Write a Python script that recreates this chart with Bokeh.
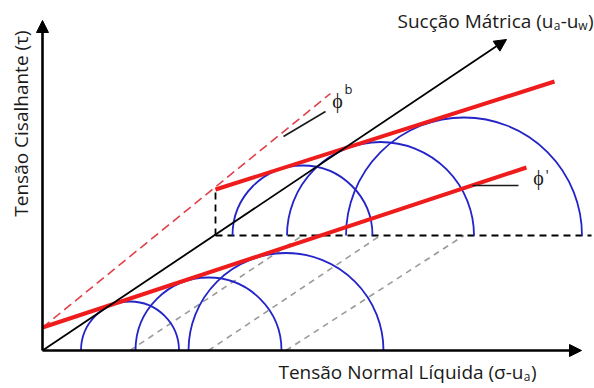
import numpy as np
from bokeh.plotting import figure
from bokeh.models import Range1d, Arrow, NormalHead
from bokeh.core.properties import value
from bokeh.embed import file_html
from bokeh.resources import INLINE

# ---- diagram values (normal stress sigma, shear tau), origin at the axes' origin ----
sigma_axis_end = 539
tau_axis_end = 330
suction_axis_end = [464, 311]

lower_env_x = [0, 484]          # effective envelope, phi'
lower_env_y = [23, 183]
upper_env_x = [173, 512]        # envelope at a given matric suction
upper_env_y = [161, 269]
phib_x = [0, 288]               # phi_b line
phib_y = [23, 257]

plane_tau = 115                 # suction plane level
plane_sigma = [173, 549]

lower_centers = [87.5, 166, 243.5]
lower_radii = [49, 73, 97.5]
upper_centers = [260, 338, 421.5]
upper_radii = [70, 93.5, 118]

FONT = value("Open Sans")

p = figure(width=594, height=388, output_backend="svg", toolbar_location=None,
           x_range=Range1d(-42, 552), y_range=Range1d(-38, 350),
           x_axis_type=None, y_axis_type=None, min_border=0)
p.outline_line_color = None
p.grid.visible = False
p.background_fill_color = "white"

# grey dashed projection lines (lower circle centres -> upper circle centres)
p.segment(x0=lower_centers, y0=[0] * 3, x1=upper_centers, y1=[plane_tau] * 3,
          line_color="#9a9a9a", line_width=1.6, line_dash="6 5")

# black dashed suction plane
p.line(x=plane_sigma, y=[plane_tau, plane_tau], line_color="black",
       line_width=1.8, line_dash="7 5")
p.line(x=[plane_sigma[0], plane_sigma[0]], y=[plane_tau, upper_env_y[0]],
       line_color="black", line_width=1.8, line_dash="7 5")

# Mohr semicircles
p.arc(x=lower_centers, y=[0] * 3, radius=lower_radii, start_angle=0, end_angle=np.pi,
      line_color="#2424c8", line_width=1.8)
p.arc(x=upper_centers, y=[plane_tau] * 3, radius=upper_radii, start_angle=0,
      end_angle=np.pi, line_color="#2424c8", line_width=1.8)

# axes with arrows
p.add_layout(Arrow(end=NormalHead(size=12, fill_color="black", line_color="black"),
                   x_start=0, y_start=0, x_end=sigma_axis_end, y_end=0,
                   line_color="black", line_width=2.6))
p.add_layout(Arrow(end=NormalHead(size=12, fill_color="black", line_color="black"),
                   x_start=0, y_start=0, x_end=0, y_end=tau_axis_end,
                   line_color="black", line_width=2.6))
p.add_layout(Arrow(end=NormalHead(size=12, fill_color="black", line_color="black"),
                   x_start=0, y_start=0, x_end=suction_axis_end[0], y_end=suction_axis_end[1],
                   line_color="black", line_width=1.8))

# phi_b dashed line
p.line(x=phib_x, y=phib_y, line_color="#e0404a", line_width=1.6, line_dash="9 5")

# red envelopes
p.line(x=lower_env_x, y=lower_env_y, line_color="#ee1c1c", line_width=4)
p.line(x=upper_env_x, y=upper_env_y, line_color="#ee1c1c", line_width=4)

# angle marker lines
p.line(x=[241, 283], y=[214, 239], line_color="#1a1a1a", line_width=1.6)
p.line(x=[430, 476], y=[165, 165], line_color="#1a1a1a", line_width=1.6)

# phi labels
p.text(x=[295], y=[250], text=["ϕ"], text_font=FONT, text_font_size="20px",
       text_align="center", text_baseline="alphabetic", text_color="#1a1a1a")
p.text(x=[302], y=[262], text=["b"], text_font=FONT, text_font_size="13px",
       text_align="left", text_baseline="alphabetic", text_color="#1a1a1a")
p.text(x=[496], y=[173], text=["ϕ"], text_font=FONT, text_font_size="20px",
       text_align="center", text_baseline="alphabetic", text_color="#1a1a1a")
p.text(x=[503], y=[177], text=["'"], text_font=FONT, text_font_size="15px",
       text_align="left", text_baseline="alphabetic", text_color="#1a1a1a")

# axis titles
TC = "#1a1a1a"
# y title
p.text(x=[-22], y=[227], text=["Tensão Cisalhante (τ)"], text_font=FONT,
       text_font_size="19px", text_align="center", text_baseline="middle",
       angle=np.pi / 2, text_color=TC)

# top title: Sucção Mátrica (u_a-u_w)
ty = 330
p.text(x=[551], y=[ty], text=[")"], text_font=FONT, text_font_size="19px",
       text_align="right", text_baseline="alphabetic", text_color=TC)
p.text(x=[545], y=[ty - 5], text=["w"], text_font=FONT, text_font_size="12px",
       text_align="right", text_baseline="alphabetic", text_color=TC)
p.text(x=[536], y=[ty], text=["-u"], text_font=FONT, text_font_size="19px",
       text_align="right", text_baseline="alphabetic", text_color=TC)
p.text(x=[518], y=[ty - 5], text=["a"], text_font=FONT, text_font_size="12px",
       text_align="right", text_baseline="alphabetic", text_color=TC)
p.text(x=[511], y=[ty], text=["Sucção Mátrica (u"], text_font=FONT, text_font_size="19px",
       text_align="right", text_baseline="alphabetic", text_color=TC)

# bottom title: Tensão Normal Líquida (σ-u_a)
by = -21
p.text(x=[494], y=[by], text=[")"], text_font=FONT, text_font_size="19px",
       text_align="right", text_baseline="alphabetic", text_color=TC)
p.text(x=[488], y=[by - 5], text=["a"], text_font=FONT, text_font_size="12px",
       text_align="right", text_baseline="alphabetic", text_color=TC)
p.text(x=[481], y=[by], text=["Tensão Normal Líquida (σ-u"], text_font=FONT,
       text_font_size="19px", text_align="right", text_baseline="alphabetic", text_color=TC)

open("out.html", "w").write(file_html(p, INLINE))
